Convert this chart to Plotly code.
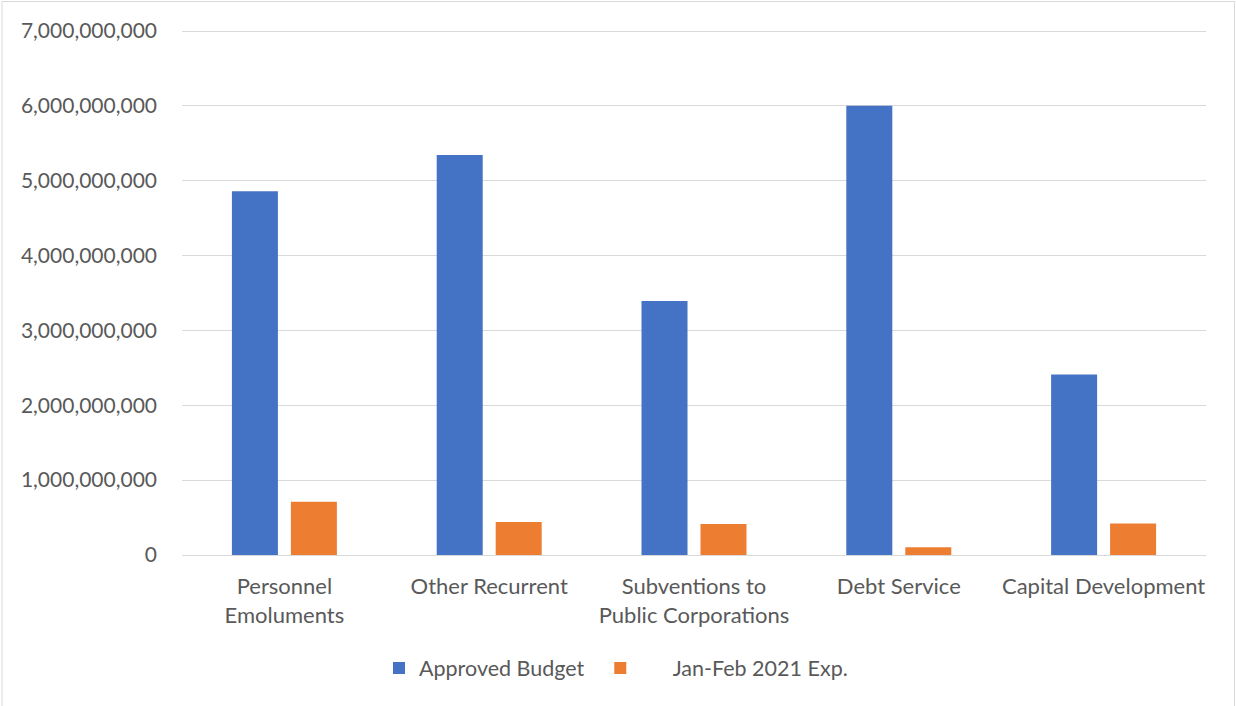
import plotly.graph_objects as go

categories = ["Personnel<br>Emoluments", "Other Recurrent", "Subventions to<br>Public Corporations",
              "Debt Service", "Capital Development"]
approved_budget = [4860000000, 5345000000, 3393000000, 6000000000, 2410000000]
jan_feb_exp = [712000000, 440000000, 414000000, 103000000, 420000000]
y_ticks = [0, 1e9, 2e9, 3e9, 4e9, 5e9, 6e9, 7e9]
y_tick_labels = ["0", "1,000,000,000", "2,000,000,000", "3,000,000,000", "4,000,000,000",
                 "5,000,000,000", "6,000,000,000", "7,000,000,000"]

W, H = 1236, 706
ml, mr, mt, mb = 182, 30, 29, 151
pw, ph = W - ml - mr, H - mt - mb
y_top = 7e9 * ph / 524.0  # keep 7e9 gridline slightly inside the plot area so it is drawn

fig = go.Figure()
fig.add_trace(go.Bar(x=categories, y=approved_budget, name="Approved Budget\u00a0\u00a0",
                     marker=dict(color="#4472C4", line=dict(width=0))))
fig.add_trace(go.Bar(x=categories, y=jan_feb_exp,
                     name="\u00a0\u00a0\u00a0\u00a0\u00a0\u00a0Jan-Feb 2021 Exp.",
                     marker=dict(color="#ED7D31", line=dict(width=0))))

font_family = "Lato, 'Open Sans', sans-serif"
fig.update_layout(
    width=W, height=H,
    margin=dict(l=ml, r=mr, t=mt, b=mb),
    paper_bgcolor="white", plot_bgcolor="white",
    barmode="group", bargap=0.424, bargroupgap=0.22,
    font=dict(family=font_family, size=21, color="#595959"),
    showlegend=True,
    legend=dict(orientation="h", x=(616 - ml) / pw, xanchor="center",
                y=-(668 - (mt + ph)) / ph, yanchor="middle",
                font=dict(size=21.5, color="#595959"), itemwidth=30, traceorder="normal"),
    xaxis=dict(showgrid=False, showline=False, ticks="", ticklabelstandoff=16,
               tickfont=dict(size=22, color="#595959")),
    yaxis=dict(range=[0, y_top], tickvals=y_ticks, ticktext=y_tick_labels,
               showgrid=True, gridcolor="#D9D9D9", gridwidth=1.3,
               zeroline=True, zerolinecolor="#D9D9D9", zerolinewidth=1.3,
               showline=False, ticks="", ticklabelstandoff=24,
               tickfont=dict(size=21, color="#595959")),
)

fig.add_shape(type="rect", xref="paper", yref="paper",
              x0=-(ml - 2) / pw, x1=1 + (mr - 1.5) / pw,
              y0=-(mb + 5) / ph, y1=1 + (mt - 1.5) / ph,
              line=dict(color="#D9D9D9", width=1), fillcolor="rgba(0,0,0,0)", layer="below")

fig.write_html("out.html", config={"displayModeBar": False},
               post_script="document.body.style.margin='0';document.body.style.overflow='hidden';")
